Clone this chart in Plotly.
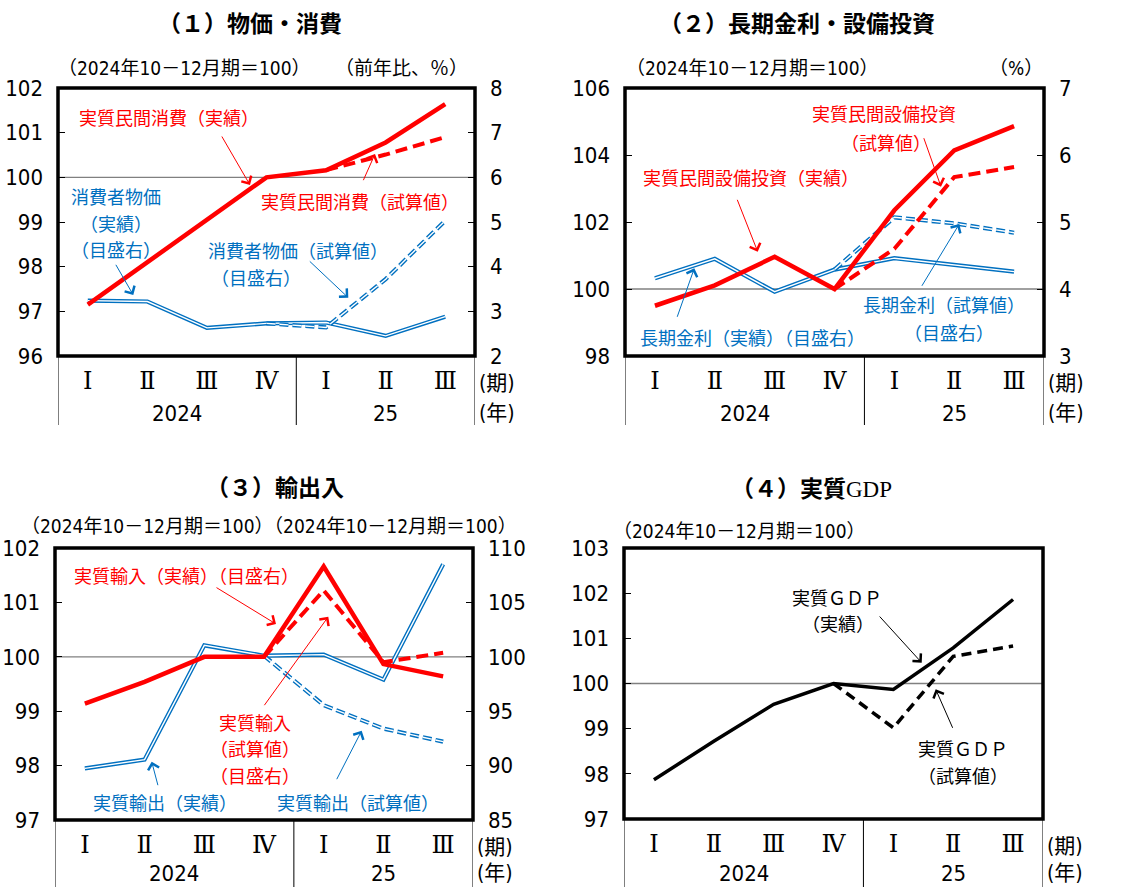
import plotly.graph_objects as go

W, H = 1134, 887

# ---------------- data ----------------
quarters = ["Ⅰ", "Ⅱ", "Ⅲ", "Ⅳ", "Ⅰ", "Ⅱ", "Ⅲ"]
year_labels = ["2024", "25"]

# (1) prices & consumption
cons_actual = [97.15, 98.10, 99.07, 100.00, 100.16, 100.78, 101.64]
cons_est = [None, None, None, None, 100.16, 100.51, 100.90]
cpi_actual = [3.24, 3.22, 2.63, 2.73, 2.75, 2.45, 2.88]
cpi_est = [None, None, None, 2.73, 2.64, 3.72, 5.03]

# (2) long-term rate & capex
capex_actual = [99.50, 100.11, 100.96, 100.00, 102.35, 104.14, 104.86]
capex_est = [None, None, None, 100.00, 101.20, 103.34, 103.64]
rate_actual = [4.16, 4.45, 3.96, 4.29, 4.46, 4.36, 4.26]
rate_est = [None, None, None, 4.29, 5.07, 4.98, 4.84]

# (3) exports & imports
exp_actual = [97.95, 98.11, 100.21, 100.02, 100.04, 99.58, 101.70]
exp_est = [None, None, None, 100.02, 99.11, 98.68, 98.44]
imp_actual = [95.7, 97.7, 100.0, 100.0, 108.3, 99.33, 98.2]
imp_est = [None, None, None, 100.0, 106.1, 99.5, 100.37]

# (4) real GDP
gdp_actual = [97.87, 98.72, 99.54, 100.00, 99.87, 100.79, 101.86]
gdp_est = [None, None, None, 100.00, 99.02, 100.60, 100.83]

# ---------------- style ----------------
RED = "#FF0000"
BLUE = "#0070C0"
BLACK = "#000000"
GRAY = "#808080"
JP = "Noto Sans CJK JP"
NUM = "DejaVu Sans Condensed, Liberation Sans Narrow, Liberation Sans, Noto Sans CJK JP"
ROMAN = "DejaVu Serif, Liberation Serif, Noto Sans CJK JP"

xs = list(range(len(quarters)))


def px(x):
    return x / W


def py(y):
    return 1 - y / H


fig = go.Figure()


def line(ys, xa, ya, color, width, dash=None):
    fig.add_trace(go.Scatter(x=xs, y=ys, xaxis=xa, yaxis=ya, mode="lines",
                             line=dict(color=color, width=width, dash=dash),
                             connectgaps=False, hoverinfo="skip", showlegend=False))


def double(ys, xa, ya, dash=None):
    line(ys, xa, ya, BLUE, 4.2, dash)
    line(ys, xa, ya, "white", 1.4, dash)


panels = [
    dict(xa="x", yb="y", box=(58, 88, 475, 356), bottom=425, mid="y2", ylab=413),
    dict(xa="x2", yb="y3", box=(625, 88, 1044, 356), bottom=425, mid="y4", ylab=413),
    dict(xa="x3", yb="y5", box=(55, 548, 473, 820), bottom=887, mid="y5", ylab=873),
    dict(xa="x4", yb="y7", box=(624, 548, 1043, 819), bottom=887, mid="y7", ylab=873),
]

# panel 1: base y = CPI (right), y2 = consumption (left, on top)
double(cpi_actual, "x", "y")
double(cpi_est, "x", "y", "9px,4px")
line(cons_actual, "x", "y2", RED, 4.5)
line(cons_est, "x", "y2", RED, 4, "12px,6px")
# panel 2: base y3 = rate (right), y4 = capex (left)
double(rate_actual, "x2", "y3")
double(rate_est, "x2", "y3", "9px,4px")
line(capex_actual, "x2", "y4", RED, 4.5)
line(capex_est, "x2", "y4", RED, 4, "12px,6px")
# panel 3: base y5 = exports (left), y6 = imports (right)
double(exp_actual, "x3", "y5")
double(exp_est, "x3", "y5", "9px,4px")
line(imp_actual, "x3", "y6", RED, 4.5)
line(imp_est, "x3", "y6", RED, 4, "12px,6px")
# panel 4
line(gdp_actual, "x4", "y7", BLACK, 3.5)
line(gdp_est, "x4", "y7", BLACK, 3.5, "10px,6px")


def yax(rng, dtick, side, xa, domain=None, overlay=None):
    d = dict(range=rng, dtick=dtick, tick0=rng[0], side=side, anchor=xa,
             ticks="inside", ticklen=7, tickwidth=1, tickcolor="black",
             showgrid=False, zeroline=False, showline=False, automargin=False,
             tickfont=dict(family=NUM, size=22, color="black"),
             ticklabelstandoff=14, fixedrange=True)
    if overlay:
        d["overlaying"] = overlay
    else:
        d["domain"] = domain
    return d


def xax(box, yb):
    x0, y0, x1, y1 = box
    return dict(domain=[px(x0), px(x1)], range=[-0.5, len(quarters) - 0.5], anchor=yb,
                tickvals=xs, ticktext=quarters, ticks="", showgrid=False,
                zeroline=False, showline=False, automargin=False,
                tickfont=dict(family=ROMAN, size=24, color="black"),
                ticklabelstandoff=8, fixedrange=True)


def ydom(box):
    return [py(box[3]), py(box[1])]


b1, b2, b3, b4 = [p["box"] for p in panels]
fig.update_layout(
    xaxis=xax(b1, "y"),
    xaxis2=xax(b2, "y3"),
    xaxis3=xax(b3, "y5"),
    xaxis4=xax(b4, "y7"),
    yaxis=yax([2, 8], 1, "right", "x", domain=ydom(b1)),
    yaxis2=yax([96, 102], 1, "left", "x", overlay="y"),
    yaxis3=yax([3, 7], 1, "right", "x2", domain=ydom(b2)),
    yaxis4=yax([98, 106], 2, "left", "x2", overlay="y3"),
    yaxis5=yax([97, 102], 1, "left", "x3", domain=ydom(b3)),
    yaxis6=yax([85, 110], 5, "right", "x3", overlay="y5"),
    yaxis7=yax([97, 103], 1, "left", "x4", domain=ydom(b4)),
)

shapes = []
annotations = []
for p in panels:
    xa, yb = p["xa"], p["yb"]
    shapes.append(dict(type="line", xref=f"{xa} domain", yref=p["mid"], x0=0, x1=1,
                       y0=100, y1=100, line=dict(color=GRAY, width=1.3), layer="below"))
    shapes.append(dict(type="rect", xref=f"{xa} domain", yref=f"{yb} domain",
                       x0=0, x1=1, y0=0, y1=1, line=dict(color="black", width=3.5)))
    for xv in (-0.5, 3.5, len(quarters) - 0.5):
        shapes.append(dict(type="line", xref=xa, yref="paper", x0=xv, x1=xv,
                           y0=py(p["box"][3]), y1=py(p["bottom"]),
                           line=dict(color="black", width=1)))
    ylab = p["ylab"]
    for lab, xc in zip(year_labels, (1.5, 5.0)):
        annotations.append(dict(text=lab, xref=xa, yref="paper", x=xc, y=py(ylab),
                                showarrow=False, xanchor="center", yanchor="middle",
                                font=dict(family=NUM, size=22, color="black")))
    xr = p["box"][2] + 22
    annotations.append(dict(text="(期)", xref="paper", yref="paper", x=px(xr),
                            y=py(p["box"][3] + 27), showarrow=False, xanchor="center",
                            yanchor="middle", font=dict(family=NUM, size=21, color="black")))
    annotations.append(dict(text="(年)", xref="paper", yref="paper", x=px(xr),
                            y=py(ylab), showarrow=False, xanchor="center",
                            yanchor="middle", font=dict(family=NUM, size=21, color="black")))


def text(t, cx, cy, color="black", size=18, family=JP):
    annotations.append(dict(text=t, xref="paper", yref="paper", x=px(cx), y=py(cy),
                            showarrow=False, xanchor="center", yanchor="middle",
                            font=dict(family=family, size=size, color=color)))


def arrow(tail, head, color):
    annotations.append(dict(text="", xref="paper", yref="paper", x=px(head[0]), y=py(head[1]),
                            ax=tail[0] - head[0], ay=tail[1] - head[1], showarrow=True,
                            arrowhead=4, arrowsize=2.2, arrowwidth=1, arrowcolor=color,
                            standoff=0, startstandoff=0))


text("<b>（１）物価・消費</b>", 250, 22, size=23)
text("<b>（２）長期金利・設備投資</b>", 797, 22, size=23)
text("<b>（３）輸出入</b>", 275, 486, size=23)
text("<b>（４）実質</b><span style='font-family:Liberation Serif'>GDP</span>", 811, 487, size=23)

HDR = "（2024年10－12月期＝100）"
text(HDR, 184, 68, size=19, family=NUM)
text("（前年比、％）", 401, 68, size=19, family=NUM)
text(HDR, 752, 68, size=19, family=NUM)
text("（%）", 1016, 68, size=19, family=NUM)
text(HDR + HDR, 269, 526, size=19, family=NUM)
text(HDR, 739, 531, size=19, family=NUM)

text("実質民間消費（実績）", 168.5, 116.7, RED)
text("実質民間消費（試算値）", 360, 201, RED)
text("消費者物価", 116, 196, BLUE)
text("（実績）", 116, 222.7, BLUE)
text("（目盛右）", 116, 249, BLUE)
text("消費者物価（試算値）", 298.3, 250, BLUE)
text("（目盛右）", 256, 276.7, BLUE)
arrow((221, 135), (250, 185), RED)
arrow((362.7, 181.7), (375, 154), RED)
arrow((115, 263.3), (133.3, 295), BLUE)
arrow((308.3, 260), (348.3, 297.7), BLUE)

text("実質民間設備投資", 884, 113.3, RED)
text("（試算値）", 885.5, 141.7, RED)
text("実質民間設備投資（実績）", 751, 176.7, RED)
text("長期金利（実績）（目盛右）", 752, 336.7, BLUE)
text("長期金利（試算値）", 944, 304, BLUE)
text("（目盛右）", 949, 331.7, BLUE)
arrow((736.7, 198.3), (757.7, 251.7), RED)
arrow((923.3, 136.7), (941, 186.7), RED)
arrow((676.7, 318.3), (694.3, 268.3), BLUE)
arrow((921, 287.3), (959.3, 224), BLUE)

text("実質輸入（実績）（目盛右）", 186, 575, RED)
text("実質輸入", 255, 721.7, RED)
text("（試算値）", 255, 748.3, RED)
text("（目盛右）", 255, 775, RED)
text("実質輸出（実績）", 165, 801.7, BLUE)
text("実質輸出（試算値）", 358, 801.7, BLUE)
arrow((215, 586.7), (276, 624), RED)
arrow((263.3, 706.7), (328.3, 616.7), RED)
arrow((158.3, 786.7), (151.7, 761.7), BLUE)
arrow((336, 780.7), (361.7, 730.7), BLUE)

text("実質ＧＤＰ", 836.7, 596.7, BLACK)
text("（実績）", 838, 623.3, BLACK)
text("実質ＧＤＰ", 962.5, 748.3, BLACK)
text("（試算値）", 963.3, 775, BLACK)
arrow((878.3, 615), (921.7, 662.7), BLACK)
arrow((953.3, 729.3), (935.7, 689.3), BLACK)

fig.update_layout(width=W, height=H, margin=dict(l=0, r=0, t=0, b=0, autoexpand=False),
                  paper_bgcolor="white", plot_bgcolor="white",
                  shapes=shapes, annotations=annotations, showlegend=False)

fig.write_html(
    "out.html",
    config={"displayModeBar": False},
    post_script="document.body.style.margin='0px';document.body.style.overflow='hidden';",
)
